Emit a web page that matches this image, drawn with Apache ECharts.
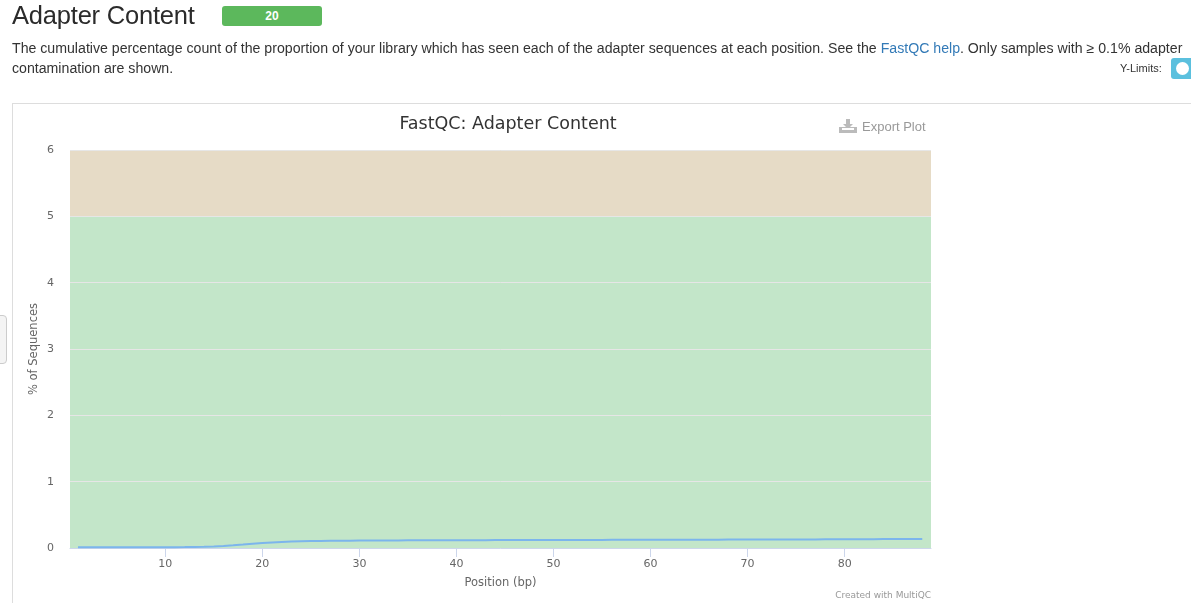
<!DOCTYPE html>
<html>
<head>
<meta charset="utf-8">
<script src="https://cdn.jsdelivr.net/npm/echarts@6/dist/echarts.min.js"></script>
<style>
  html, body { margin: 0; padding: 0; width: 1191px; height: 603px; overflow: hidden; background: #fff; font-family: "Liberation Sans", Arial, sans-serif; color: #333; }
  #h1 { position: absolute; left: 12px; top: 1px; font-size: 25.5px; font-weight: normal; color: #2b2b2b; letter-spacing: -0.2px; }
  #badge { position: absolute; left: 222px; top: 6px; width: 100px; height: 20px; background: #5cb85c; border-radius: 3px; color: #fff; font-size: 12px; font-weight: bold; text-align: center; line-height: 20px; }
  #desc { position: absolute; left: 12px; top: 38px; width: 1180px; font-size: 14.15px; line-height: 20px; color: #333; }
  #desc a { color: #337ab7; text-decoration: none; }
  #ylim { position: absolute; left: 1120px; top: 62px; font-size: 11px; color: #333; }
  #toggle { position: absolute; left: 1171px; top: 58px; width: 30px; height: 21px; background: #5bc0de; border-radius: 3px; }
  #toggle span { position: absolute; left: 5px; top: 4px; width: 13px; height: 13px; background: #fff; border-radius: 50%; }
  #box { position: absolute; left: 12px; top: 103px; width: 1200px; height: 520px; border-top: 1px solid #ddd; border-left: 1px solid #ddd; }
  #handle { position: absolute; left: -6px; top: 315px; width: 11px; height: 47px; border: 1px solid #ccc; border-radius: 4px; background: #f4f4f4; }
  #chart { position: absolute; left: 0; top: 0; width: 1191px; height: 603px; }
  #export { position: absolute; left: 839px; top: 119px; font-size: 13px; color: #999; font-family: "Liberation Sans", Arial, sans-serif; }
  #export svg { vertical-align: -2px; margin-right: 5px; }
</style>
</head>
<body>
<div id="box"></div>
<div id="handle"></div>
<div id="chart"></div>
<div id="h1">Adapter Content</div>
<div id="badge">20</div>
<div id="desc">The cumulative percentage count of the proportion of your library which has seen each of the adapter sequences at each position. See the <a>FastQC help</a>. Only samples with &ge; 0.1% adapter contamination are shown.</div>
<div id="ylim">Y-Limits:</div>
<div id="toggle"><span></span></div>
<div id="export"><svg width="18" height="14" viewBox="0 0 18 14"><rect x="0" y="8" width="18" height="6" fill="#bbb"/><rect x="7" y="0" width="4" height="6" fill="#bbb"/><polygon points="4,5 14,5 9,10" fill="#bbb"/><rect x="3" y="9" width="12" height="2" fill="#fff"/></svg>Export Plot</div>
<script>
const positions = [1,2,3,4,5,6,7,8,9,10,11,12,13,14,15,16,17,18,19,20,21,22,23,24,25,26,27,28,29,30,31,32,33,34,35,36,37,38,39,40,41,42,43,44,45,46,47,48,49,50,51,52,53,54,55,56,57,58,59,60,61,62,63,64,65,66,67,68,69,70,71,72,73,74,75,76,77,78,79,80,81,82,83,84,85,86,87,88];
const adapterPct = [
  0.010,0.010,0.010,0.010,0.010,0.011,0.011,0.011,0.012,0.012,
  0.013,0.014,0.016,0.019,0.024,0.031,0.040,0.051,0.063,0.074,
  0.084,0.092,0.097,0.101,0.104,0.106,0.108,0.110,0.111,0.112,
  0.113,0.113,0.114,0.114,0.115,0.115,0.116,0.116,0.117,0.117,
  0.118,0.118,0.118,0.119,0.119,0.119,0.120,0.120,0.120,0.121,
  0.121,0.121,0.122,0.122,0.122,0.123,0.123,0.123,0.124,0.124,
  0.124,0.125,0.125,0.125,0.126,0.126,0.126,0.127,0.127,0.127,
  0.128,0.128,0.128,0.129,0.129,0.130,0.130,0.131,0.131,0.132,
  0.132,0.133,0.133,0.134,0.134,0.135,0.135,0.136
];
const xTicks = [10,20,30,40,50,60,70,80];
const yTicks = [0,1,2,3,4,5,6];
const bandColors = ['#c3e6c9','#c3e6c9','#c3e6c9','#c3e6c9','#c3e6c9','#e6dbc6'];

const chart = echarts.init(document.getElementById('chart'), null, {renderer: 'canvas'});
const axisFont = '"DejaVu Sans", Verdana, sans-serif';
chart.setOption({
  animation: false,
  backgroundColor: 'transparent',
  title: {
    text: 'FastQC: Adapter Content',
    left: 503, top: 110, textAlign: 'center',
    textStyle: { fontFamily: axisFont, fontSize: 17.5, fontWeight: 'normal', color: '#333' }
  },
  grid: { left: 70, top: 150, width: 861, height: 398, containLabel: false },
  xAxis: {
    type: 'value', min: 0.18, max: 88.9,
    name: 'Position (bp)', nameLocation: 'middle', nameGap: 29,
    nameTextStyle: { fontFamily: axisFont, fontSize: 11.5, color: '#666' },
    axisLine: { show: true, lineStyle: { color: '#ccd6eb', width: 1 } },
    axisTick: { show: true, length: 9, lineStyle: { color: '#ccd6eb' }, customValues: xTicks },
    axisLabel: { fontFamily: axisFont, fontSize: 11, color: '#666', margin: 11, customValues: xTicks },
    splitLine: { show: false }
  },
  yAxis: {
    type: 'value', min: 0, max: 6, interval: 1,
    name: '% of Sequences', nameLocation: 'middle', nameGap: 30, nameRotate: 90,
    nameMoveOverlap: false,
    nameTextStyle: { fontFamily: axisFont, fontSize: 11.5, color: '#666' },
    axisLine: { show: false }, axisTick: { show: false },
    axisLabel: { fontFamily: axisFont, fontSize: 11, color: '#666', margin: 16 },
    splitLine: { show: true, lineStyle: { color: '#e6e6e6', width: 1 } },
    splitArea: { show: true, areaStyle: { color: bandColors, opacity: 1 } }
  },
  graphic: [{
    type: 'text', right: 1191 - 931, top: 591,
    style: { text: 'Created with MultiQC', fontFamily: axisFont, fontSize: 9, fill: '#999', textAlign: 'right' }
  }],
  series: [{
    type: 'line',
    data: positions.map((p, i) => [p, adapterPct[i]]),
    showSymbol: false,
    lineStyle: { color: '#7cb5ec', width: 2 },
    itemStyle: { color: '#7cb5ec' },
    smooth: false
  }]
});
</script>
</body>
</html>
